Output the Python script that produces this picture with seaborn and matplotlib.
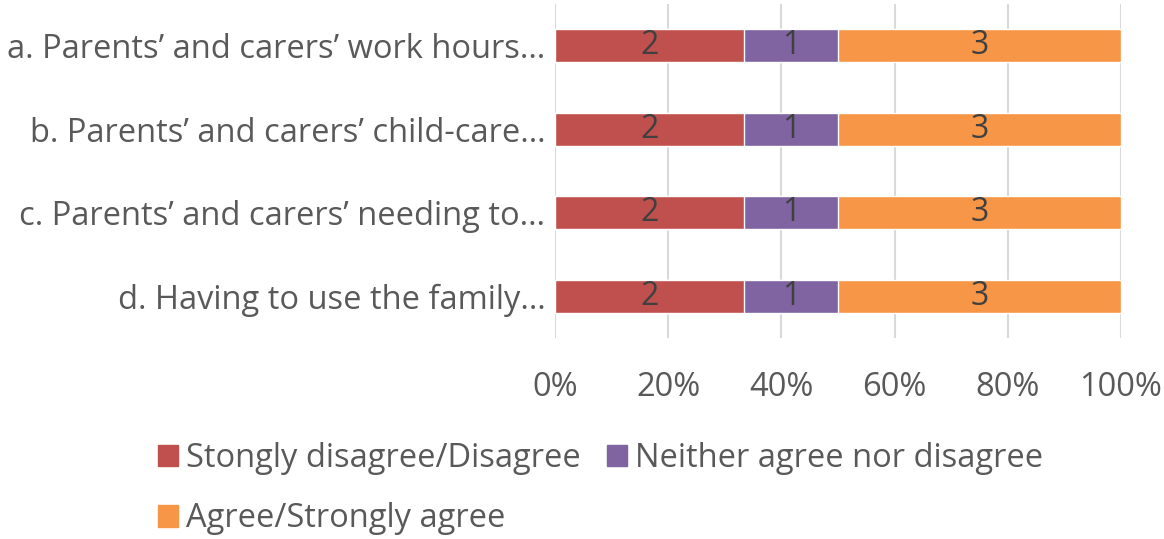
import pandas as pd
import numpy as np
import matplotlib
matplotlib.use("Agg")
import matplotlib.pyplot as plt
import seaborn as sns
from matplotlib.patches import Patch

# Survey data (counts per answer)
categories = [
    "a. Parents’ and carers’ work hours…",
    "b. Parents’ and carers’ child-care…",
    "c. Parents’ and carers’ needing to…",
    "d. Having to use the family…",
]
disagree = [2, 2, 2, 2]
neither = [1, 1, 1, 1]
agree = [3, 3, 3, 3]
series_names = ["Stongly disagree/Disagree", "Neither agree nor disagree", "Agree/Strongly agree"]
colors = ["#C0504D", "#8064A2", "#F79646"]

df = pd.DataFrame({"cat": categories, "dis": disagree, "nei": neither, "agr": agree})
total = df[["dis", "nei", "agr"]].sum(axis=1)
df["p_dis"] = df["dis"] / total * 100
df["p_nei"] = df["nei"] / total * 100
df["p_agr"] = df["agr"] / total * 100
df["c1"] = df["p_dis"]
df["c2"] = df["p_dis"] + df["p_nei"]
df["c3"] = df["c2"] + df["p_agr"]

sns.set_style("white")
plt.rcParams["font.family"] = ["Open Sans", "DejaVu Sans"]

fig = plt.figure(figsize=(11.64, 5.39), dpi=100)
ax = fig.add_axes([555 / 1164, 1 - 338 / 539, (1121 - 555) / 1164, 334 / 539])

# stacked bars drawn as overlapping cumulative totals
sns.barplot(data=df, x="c3", y="cat", color=colors[2], width=0.4, ax=ax, saturation=1, zorder=3)
sns.barplot(data=df, x="c2", y="cat", color=colors[1], width=0.4, ax=ax, saturation=1, zorder=3)
sns.barplot(data=df, x="c1", y="cat", color=colors[0], width=0.4, ax=ax, saturation=1, zorder=3)

# value labels centred in each segment
for i, row in df.iterrows():
    starts = [0, row["c1"], row["c2"]]
    widths = [row["p_dis"], row["p_nei"], row["p_agr"]]
    vals = [row["dis"], row["nei"], row["agr"]]
    for s, w, v in zip(starts, widths, vals):
        ax.text(s + w / 2, i, str(v), ha="center", va="center", fontsize=23, color="#404040", zorder=4)

ax.set_xlim(0, 100)
ax.set_ylim(3.5, -0.5)
ax.set_xticks(np.arange(0, 101, 20))
ax.set_xticklabels([f"{t}%" for t in range(0, 101, 20)])
ax.xaxis.grid(True, color="#D9D9D9", linewidth=1.5, zorder=0)
ax.set_axisbelow(True)
for sp in ax.spines.values():
    sp.set_visible(False)
ax.set_xlabel("")
ax.set_ylabel("")
ax.tick_params(axis="x", length=0, pad=24, labelsize=23.5, labelcolor="#595959")
ax.tick_params(axis="y", length=0, pad=7, labelsize=23.5, labelcolor="#595959")

handles = [Patch(color=colors[0]), Patch(color=colors[2]), Patch(color=colors[1])]
labels = [series_names[0], series_names[2], series_names[1]]
leg = fig.legend(handles, labels, ncol=2, loc="upper left", bbox_to_anchor=(158 / 1164, 1 - 442 / 539),
                 frameon=False, fontsize=23.5, borderpad=0, borderaxespad=0,
                 handlelength=0.62, handleheight=0.62, handletextpad=0.25,
                 columnspacing=0.78, labelspacing=0.84)
for t in leg.get_texts():
    t.set_color("#595959")

fig.savefig("out.png", dpi=100)
